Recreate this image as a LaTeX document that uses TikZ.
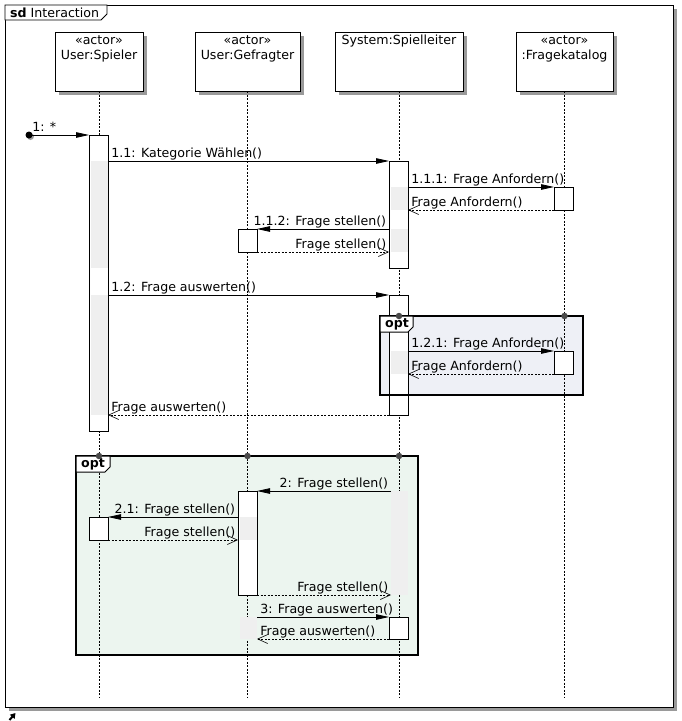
\documentclass[tikz,border=0pt]{standalone}
\usepackage{fontspec}
\setmainfont{DejaVu Sans}
\usetikzlibrary{arrows.meta,shadows,calc}

\definecolor{shadowgray}{HTML}{9A9A9A}
\definecolor{busygray}{HTML}{EFEFEF}
\definecolor{optblue}{HTML}{EEF0F6}
\definecolor{optgreen}{HTML}{ECF5EF}
\definecolor{dotgray}{HTML}{4A4A4A}

\begin{document}
\begin{tikzpicture}[x=1pt,y=-1pt,font=\fontsize{12.6}{15}\selectfont,
		frame/.style={draw,fill=white,line width=0.9pt,inner sep=0pt,outer sep=0pt,anchor=north west,drop shadow={shadow xshift=4pt,shadow yshift=-4pt,fill=shadowgray,opacity=1}},
		head/.style={frame,minimum width=#1,minimum height=59pt},
		headtext/.style={anchor=north,align=center,inner sep=0pt,yshift=-3pt},
		lifeline/.style={line width=0.6pt,dash pattern=on 2pt off 1.5pt},
		act/.style={draw,fill=white,line width=0.9pt,minimum width=19pt,minimum height=#1,inner sep=0pt,outer sep=0pt,anchor=north west},
		busy/.style={fill=busygray,minimum width=17pt,minimum height=#1,inner sep=0pt,outer sep=0pt,anchor=north west},
		frag/.style={draw,line width=2pt,inner sep=0pt,outer sep=0pt,anchor=north west},
		tab/.style={anchor=base west,inner sep=0pt,font=\fontsize{12.6}{15}\selectfont\bfseries},
		call/.style={-{Triangle[length=13pt,width=5.5pt]},line width=0.8pt},
		reply/.style={-{Straight Barb[length=10pt,width=9pt]},line width=0.6pt,dash pattern=on 2pt off 1.5pt},
		lw/.style={anchor=base west,inner sep=0pt,xshift=3pt,yshift=3.5pt},
		le/.style={anchor=base east,inner sep=0pt,xshift=-2.5pt,yshift=3.5pt},
		dot/.style={circle,fill=dotgray,inner sep=0pt,minimum size=6.5pt}]
	\useasboundingbox (0,0) rectangle (681,721);
	\coordinate (bot) at (0,697);

	\node[frame,minimum width=668pt,minimum height=702pt] (sd) at (5,5) {};
	\draw[fill=white,line width=0.9pt] (sd.north west) -- ++(102,0) -- ++(0,9) -- ++(-6,6) -- ++(-96,0) -- cycle;
	\node[anchor=base west,inner sep=0pt] (sdt) at (10,17) {\textbf{sd} Interaction};

	\node[head=88pt] (hS) at (55,32) {};
	\node[head=105pt] (hG) at (195,32) {};
	\node[head=128pt] (hL) at (335,32) {};
	\node[head=97pt] (hK) at (516,32) {};
	\node[headtext] (tS) at (hS.north) {«actor»\\User:Spieler};
	\node[headtext] (tG) at (hG.north) {«actor»\\User:Gefragter};
	\node[headtext] (tL) at (hL.north) {System:Spielleiter};
	\node[headtext] (tK) at (hK.north) {«actor»\\:Fragekatalog};

	\node[frag,fill=optblue,minimum width=203pt,minimum height=79pt] (f1) at (380,316) {};
	\node[frag,fill=optgreen,minimum width=342pt,minimum height=199pt] (f2) at (76,456) {};

	\foreach \h in {hS,hG,hL,hK}
		\draw[lifeline] (\h.south) -- (\h.south |- bot);

	\node[act=296pt] (aS1) at (89,135) {};
	\node[act=107pt] (aL1) at (389,161) {};
	\node[act=23pt] (aK1) at (554,187) {};
	\node[act=23pt] (aG1) at (238,229) {};
	\node[act=120pt] (aL2) at (389,295) {};
	\node[act=23pt] (aK2) at (554,351) {};
	\node[act=104pt] (aG2) at (238,491) {};
	\node[act=23pt] (aS2) at (89,517) {};
	\node[act=22pt] (aL3) at (389,617) {};
	\node[busy=104pt] (gL) at (391,491) {};
	\node[busy=22pt] (gG) at (240,617) {};

	\foreach \a/\b in {aS1/aL1,aS1/aL2,aL1/aK1,aL1/aG1,aL2/aK2,aG2/aS2}
		\fill[busygray] ($(\a.west |- \b.north)+(2,0)$) rectangle ($(\a.east |- \b.south)+(-0.5,0)$);

	\draw[line width=2pt] (f1.north west) rectangle (f1.south east);

	\node[circle,fill=black,inner sep=0pt,minimum size=7pt,drop shadow={shadow xshift=1.5pt,shadow yshift=-1.5pt,fill=shadowgray,opacity=1}] (start) at (29,135) {};
	\draw[call] (start.center) -- node[pos=0,lw] (m1) {1: *} (aS1.north west);
	\draw[call] (aS1.east |- aL1.north) -- node[pos=0,lw] (m11) {1.1: Kategorie Wählen()} (aL1.north west);
	\draw[call] (aL1.east |- aK1.north) -- node[pos=0,lw] (m111) {1.1.1: Frage Anfordern()} (aK1.north west);
	\draw[reply] (aK1.south west) -- node[pos=1,lw] (r111) {Frage Anfordern()} (aL1.east |- aK1.south);
	\draw[call] (aL1.west |- aG1.north) -- node[pos=0,le] (m112) {1.1.2: Frage stellen()} (aG1.north east);
	\draw[reply] (aG1.south east) -- node[pos=1,le] (r112) {Frage stellen()} (aL1.west |- aG1.south);
	\draw[call] (aS1.east |- aL2.north) -- node[pos=0,lw] (m12) {1.2: Frage auswerten()} (aL2.north west);
	\draw[call] (aL2.east |- aK2.north) -- node[pos=0,lw] (m121) {1.2.1: Frage Anfordern()} (aK2.north west);
	\draw[reply] (aK2.south west) -- node[pos=1,lw] (r121) {Frage Anfordern()} (aL2.east |- aK2.south);
	\draw[reply] (aL2.south west) -- node[pos=1,lw] (r12) {Frage auswerten()} (aS1.east |- aL2.south);
	\draw[call] (gL.west |- aG2.north) -- node[pos=0,le] (m2) {2: Frage stellen()} (aG2.north east);
	\draw[call] (aG2.west |- aS2.north) -- node[pos=0,le] (m21) {2.1: Frage stellen()} (aS2.north east);
	\draw[reply] (aS2.south east) -- node[pos=1,le] (r21) {Frage stellen()} (aG2.west |- aS2.south);
	\draw[reply] (aG2.south east) -- node[pos=1,le] (r2) {Frage stellen()} (gL.west |- aG2.south);
	\draw[call] (gG.east |- aL3.north) -- node[pos=0,lw] (m3) {3: Frage auswerten()} (aL3.north west);
	\draw[reply] (aL3.south west) -- node[pos=1,lw] (r3) {Frage auswerten()} (gG.east |- aL3.south);

	\draw[fill=white,line width=1pt] (f1.north west) -- ++(33,0) -- ++(0,11) -- ++(-5,5) -- ++(-28,0) -- cycle;
	\node[tab] (o1) at ($(f1.north west)+(5,11)$) {opt};
	\draw[fill=white,line width=1pt] (f2.north west) -- ++(34,0) -- ++(0,11) -- ++(-5,5) -- ++(-29,0) -- cycle;
	\node[tab] (o2) at ($(f2.north west)+(5,11.5)$) {opt};
	\foreach \h in {hL,hK}
		\node[dot] (d1\h) at (\h.south |- f1.north) {};
	\foreach \h in {hS,hG,hL}
		\node[dot] (d2\h) at (\h.south |- f2.north) {};

	\coordinate (icon) at (9.5,720);
	\draw[line width=2pt,-{Triangle[length=5pt,width=6pt]}] (icon) -- ++(6,-7);
\end{tikzpicture}
\end{document}
